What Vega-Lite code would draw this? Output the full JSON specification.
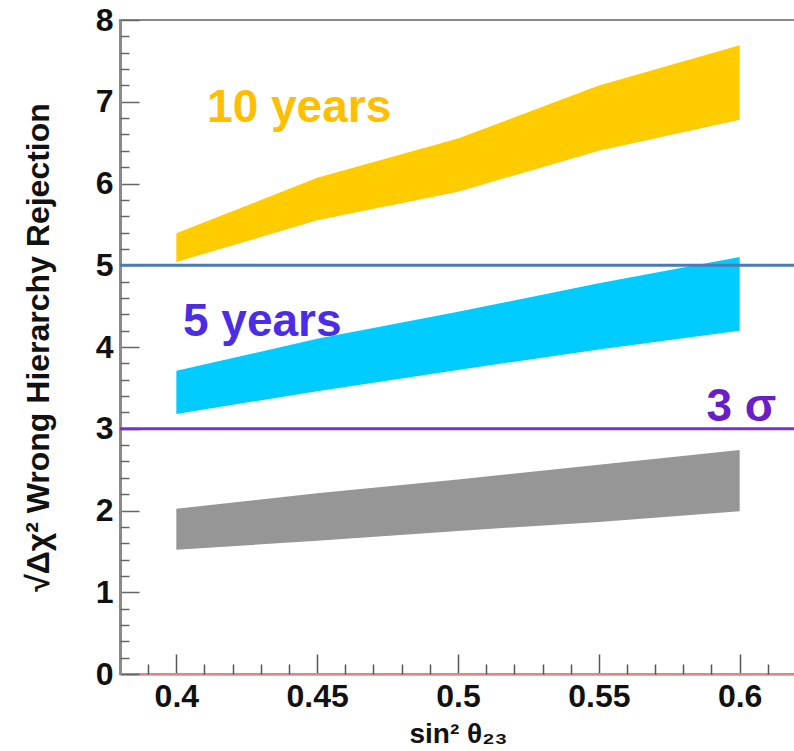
{
  "$schema": "https://vega.github.io/schema/vega-lite/v6.json",
  "width": 676,
  "height": 654,
  "autosize": {"type": "none"},
  "padding": {"left": 120, "top": 20, "right": 0, "bottom": 77},
  "background": "white",
  "config": {
    "view": {"stroke": "#8a8a8a", "strokeWidth": 2},
    "font": "Liberation Sans",
    "axis": {"grid": false, "labelFont": "Liberation Sans", "titleFont": "Liberation Sans"}
  },
  "datasets": {
    "bands": [
      {"series": "10 years band", "x": 0.40, "lo": 5.04, "hi": 5.39},
      {"series": "10 years band", "x": 0.45, "lo": 5.55, "hi": 6.07},
      {"series": "10 years band", "x": 0.50, "lo": 5.90, "hi": 6.55},
      {"series": "10 years band", "x": 0.55, "lo": 6.40, "hi": 7.20},
      {"series": "10 years band", "x": 0.60, "lo": 6.78, "hi": 7.69},
      {"series": "5 years band", "x": 0.40, "lo": 3.18, "hi": 3.71},
      {"series": "5 years band", "x": 0.45, "lo": 3.46, "hi": 4.10},
      {"series": "5 years band", "x": 0.50, "lo": 3.72, "hi": 4.43},
      {"series": "5 years band", "x": 0.55, "lo": 3.97, "hi": 4.78},
      {"series": "5 years band", "x": 0.60, "lo": 4.20, "hi": 5.10},
      {"series": "baseline band", "x": 0.40, "lo": 1.52, "hi": 2.02},
      {"series": "baseline band", "x": 0.45, "lo": 1.63, "hi": 2.21},
      {"series": "baseline band", "x": 0.50, "lo": 1.75, "hi": 2.38},
      {"series": "baseline band", "x": 0.55, "lo": 1.86, "hi": 2.56},
      {"series": "baseline band", "x": 0.60, "lo": 1.99, "hi": 2.74}
    ],
    "lines": [
      {"series": "5 sigma line", "y": 5},
      {"series": "3 sigma line", "y": 3}
    ],
    "labels": [
      {"series": "10 years label", "label": "10 years", "x": 0.4436, "y": 6.92},
      {"series": "5 years label", "label": "5 years", "x": 0.4305, "y": 4.31},
      {"series": "3 sigma label", "label": "3 σ", "x": 0.6006, "y": 3.27}
    ]
  },
  "resolve": {"axis": {"x": "independent", "y": "independent"}},
  "layer": [
    {
      "data": {"name": "bands"},
      "mark": {"type": "area", "opacity": 1},
      "encoding": {
        "x": {
          "field": "x", "type": "quantitative",
          "scale": {"domain": [0.38, 0.62], "nice": false, "zero": false},
          "axis": {
            "orient": "bottom",
            "values": [0.4, 0.45, 0.5, 0.55, 0.6],
            "format": "~g",
            "tickSize": -20, "tickColor": "#555", "tickWidth": 1.5,
            "domainColor": "#e08a8e", "domainWidth": 2.5,
            "labelFontSize": 32, "labelFontWeight": "bold", "labelColor": "#111",
            "labelPadding": 27, "labelFlush": false,
            "title": "sin² θ₂₃", "titleFontSize": 28, "titleFontWeight": "bold", "titleColor": "#111",
            "titlePadding": 8
          }
        },
        "y": {
          "field": "lo", "type": "quantitative",
          "scale": {"domain": [0, 8], "nice": false, "zero": true},
          "axis": {
            "orient": "left",
            "values": [0, 1, 2, 3, 4, 5, 6, 7, 8],
            "tickSize": -19, "tickColor": "#666", "tickWidth": 1.5,
            "domainColor": "#8a8a8a", "domainWidth": 3,
            "labelFontSize": 32, "labelFontWeight": "bold", "labelColor": "#111",
            "labelPadding": 26, "labelFlush": false,
            "title": "√Δχ² Wrong Hierarchy Rejection", "titleFontSize": 32, "titleFontWeight": "bold", "titleColor": "#111",
            "titlePadding": 40
          }
        },
        "y2": {"field": "hi"},
        "color": {
          "field": "series", "type": "nominal", "legend": null,
          "scale": {
            "domain": ["10 years band", "5 years band", "baseline band", "10 years label", "5 years label", "5 sigma line", "3 sigma line", "3 sigma label"],
            "range": ["#ffcc00", "#00ccff", "#969696", "#ffbf00", "#4b2de6", "#4a7bb7", "#7a2fd6", "#6a1ec8"]
          }
        }
      }
    },
    {
      "data": {"name": "lines"},
      "mark": {"type": "rule", "strokeWidth": 3},
      "encoding": {
        "y": {
          "field": "y", "type": "quantitative",
          "axis": {
            "orient": "left",
            "values": [0.2, 0.4, 0.6, 0.8, 1.2, 1.4, 1.6, 1.8, 2.2, 2.4, 2.6, 2.8, 3.2, 3.4, 3.6, 3.8, 4.2, 4.4, 4.6, 4.8, 5.2, 5.4, 5.6, 5.8, 6.2, 6.4, 6.6, 6.8, 7.2, 7.4, 7.6, 7.8],
            "tickSize": -9, "tickColor": "#666", "tickWidth": 1.5,
            "domain": false, "labels": false, "title": null
          }
        },
        "color": {"field": "series", "type": "nominal", "legend": null}
      }
    },
    {
      "data": {"name": "labels"},
      "mark": {"type": "text", "fontWeight": "bold", "align": "center", "baseline": "middle", "font": "Liberation Sans"},
      "encoding": {
        "x": {
          "field": "x", "type": "quantitative",
          "axis": {
            "orient": "bottom",
            "values": [0.39, 0.41, 0.42, 0.43, 0.44, 0.46, 0.47, 0.48, 0.49, 0.51, 0.52, 0.53, 0.54, 0.56, 0.57, 0.58, 0.59, 0.61],
            "tickSize": -10, "tickColor": "#555", "tickWidth": 1.5,
            "domain": false, "labels": false, "title": null
          }
        },
        "y": {"field": "y", "type": "quantitative", "axis": null},
        "text": {"field": "label"},
        "color": {"field": "series", "type": "nominal", "legend": null},
        "size": {
          "field": "series", "type": "nominal", "legend": null,
          "scale": {"domain": ["10 years label", "5 years label", "3 sigma label"], "range": [46, 46, 34]}
        }
      }
    }
  ]
}
